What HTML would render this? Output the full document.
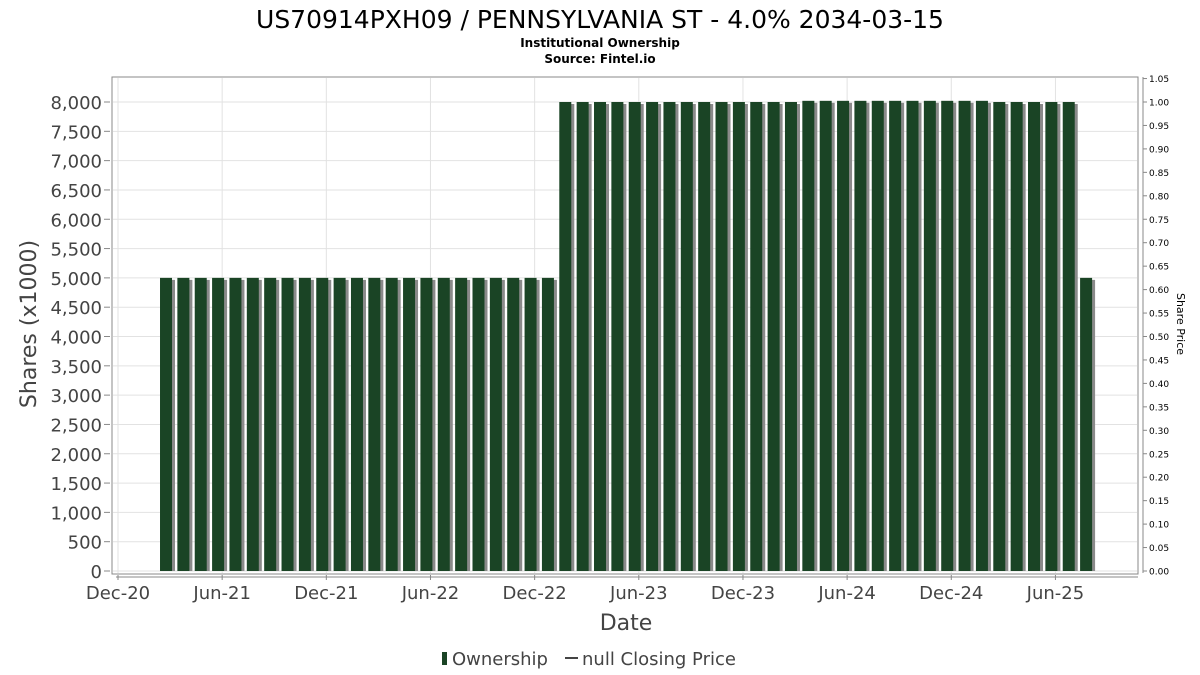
<!DOCTYPE html>
<html><head><meta charset="utf-8"><style>
body{margin:0;background:#fff;}
svg{display:block;font-family:"DejaVu Sans","Liberation Sans",sans-serif;}
</style></head><body>
<svg id="chart" width="1200" height="675" viewBox="0 0 1200 675">
<text x="600" y="28" text-anchor="middle" font-size="25" fill="#000">US70914PXH09 / PENNSYLVANIA ST - 4.0% 2034-03-15</text>
<text x="600" y="47" text-anchor="middle" font-size="12" font-weight="bold" fill="#000">Institutional Ownership</text>
<text x="600" y="63" text-anchor="middle" font-size="12" font-weight="bold" fill="#000">Source: Fintel.io</text>
<rect x="112" y="77" width="1026" height="497" fill="#fff" stroke="#888"/>
<g id="grid"></g><g id="bars"></g><g id="axes"></g>
<text transform="translate(36,324) rotate(-90)" text-anchor="middle" font-size="22" fill="#444">Shares (x1000)</text>
<text transform="translate(1177,324) rotate(90)" text-anchor="middle" font-size="11" fill="#000">Share Price</text>
<text x="626" y="630" text-anchor="middle" font-size="22" fill="#444">Date</text>
<g>
<rect x="442" y="652" width="5" height="13" fill="#1a4425"/>
<text x="452" y="665" font-size="18" fill="#444">Ownership</text>
<line x1="565" y1="658" x2="578" y2="658" stroke="#444" stroke-width="2"/>
<text x="582" y="665" font-size="18" fill="#444">null Closing Price</text>
</g>
</svg>
<script>
const ownershipValues=[5000,5000,5000,5000,5000,5000,5000,5000,5000,5000,5000,5000,5000,5000,5000,5000,5000,5000,5000,5000,5000,5000,5000,
8000,8000,8000,8000,8000,8000,8000,8000,8000,8000,8000,8000,8000,8000,
8020,8020,8020,8020,8020,8020,8020,8020,8020,8020,8020,
8000,8000,8000,8000,8000,5000];
const leftTicks=[0,500,1000,1500,2000,2500,3000,3500,4000,4500,5000,5500,6000,6500,7000,7500,8000];
const rightTicks=[0,0.05,0.1,0.15,0.2,0.25,0.3,0.35,0.4,0.45,0.5,0.55,0.6,0.65,0.7,0.75,0.8,0.85,0.9,0.95,1.0,1.05];
const xTickLabels=["Dec-20","Jun-21","Dec-21","Jun-22","Dec-22","Jun-23","Dec-23","Jun-24","Dec-24","Jun-25"];
const xTickMonths=[0,6,12,18,24,30,36,42,48,54];
const firstBarMonth=2.42;
const NS="http://www.w3.org/2000/svg";
const y=v=>571-v*(469/8000);
const yR=v=>571-v*469;
const x=m=>118+m*17.36;
function mk(t,a,p){const e=document.createElementNS(NS,t);for(const k in a)e.setAttribute(k,a[k]);p.appendChild(e);return e;}
const grid=document.getElementById('grid'),bars=document.getElementById('bars'),axes=document.getElementById('axes');
leftTicks.forEach(v=>{
 const l=mk('line',{x1:113,x2:1137,y1:y(v),y2:y(v),stroke:'#e2e2e2'},grid);
 
 
 const t=mk('text',{x:102,y:y(v)+7,'text-anchor':'end','font-size':'18',fill:'#444'},axes);
 t.textContent=v.toLocaleString('en-US');
 
 
 mk('line',{x1:104,x2:110,y1:y(v),y2:y(v),stroke:'#888'},axes);
});
xTickMonths.forEach((m,i)=>{
 const l=mk('line',{x1:x(m),x2:x(m),y1:78,y2:573,stroke:'#e2e2e2'},grid);
 
 
 mk('line',{x1:x(m),x2:x(m),y1:575,y2:580,stroke:'#888'},axes);
 const t=mk('text',{x:x(m),y:599,'text-anchor':'middle','font-size':'18',fill:'#444'},axes);
 t.textContent=xTickLabels[i];
 
 
});
mk('line',{x1:116,x2:1138,y1:577,y2:577,stroke:'#888'},axes);
mk('line',{x1:1143,x2:1143,y1:77,y2:573,stroke:'#888'},axes);
rightTicks.forEach(v=>{
 mk('line',{x1:1143,x2:1147,y1:yR(v),y2:yR(v),stroke:'#888'},axes);
 const t=mk('text',{x:1149,y:yR(v)+3.5,'font-size':'9',fill:'#000'},axes);
 t.textContent=v.toFixed(2);
 
 
});
ownershipValues.forEach((v,i)=>{
 const bx=x(firstBarMonth+i);
 const s=mk('rect',{x:bx+3,y:y(v)+2,width:12,height:571-y(v)-2,fill:'#8a8a8a'},bars);
 
 
 const r=mk('rect',{x:bx,y:y(v),width:12,height:571-y(v),fill:'#1a4425'},bars);
 
 
});
</script>
</body></html>
